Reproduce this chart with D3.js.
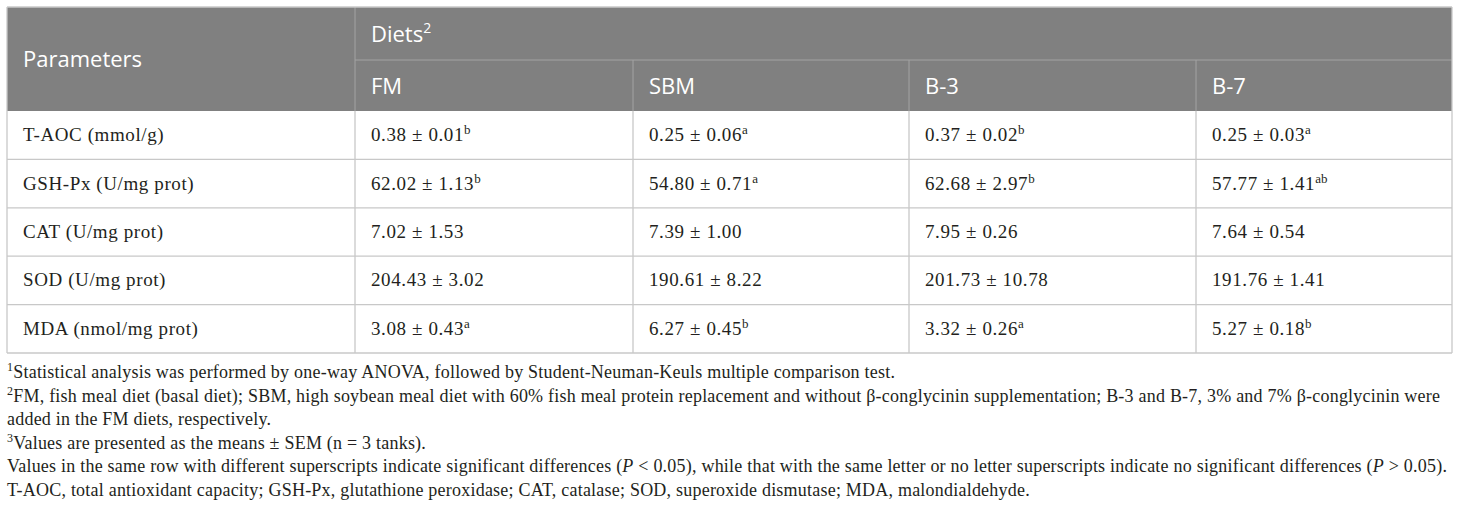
<!DOCTYPE html>
<html>
<head>
<meta charset="utf-8">
<script src="https://cdn.jsdelivr.net/npm/d3@7"></script>
<style>
  html, body { margin: 0; padding: 0; background: #fff; }
  svg { display: block; }
</style>
</head>
<body>
<svg id="chart"></svg>
<script>
// Données du tableau
const diets = ["FM", "SBM", "B-3", "B-7"];
const parameters = ["T-AOC (mmol/g)", "GSH-Px (U/mg prot)", "CAT (U/mg prot)", "SOD (U/mg prot)", "MDA (nmol/mg prot)"];

// valeurs par régime (même ordre que parameters)
const meanFM  = [0.38, 62.02, 7.02, 204.43, 3.08];
const meanSBM = [0.25, 54.80, 7.39, 190.61, 6.27];
const meanB3  = [0.37, 62.68, 7.95, 201.73, 3.32];
const meanB7  = [0.25, 57.77, 7.64, 191.76, 5.27];

const semFM  = [0.01, 1.13, 1.53, 3.02, 0.43];
const semSBM = [0.06, 0.71, 1.00, 8.22, 0.45];
const semB3  = [0.02, 2.97, 0.26, 10.78, 0.26];
const semB7  = [0.03, 1.41, 0.54, 1.41, 0.18];

const letFM  = ["b", "b", "", "", "a"];
const letSBM = ["a", "a", "", "", "b"];
const letB3  = ["b", "b", "", "", "a"];
const letB7  = ["a", "ab", "", "", "b"];

// notes : ^x = exposant, _x_ = italique
const footnotes = [
  "^1Statistical analysis was performed by one-way ANOVA, followed by Student-Neuman-Keuls multiple comparison test.",
  "^2FM, fish meal diet (basal diet); SBM, high soybean meal diet with 60% fish meal protein replacement and without β-conglycinin supplementation; B-3 and B-7, 3% and 7% β-conglycinin were",
  "added in the FM diets, respectively.",
  "^3Values are presented as the means ± SEM (n = 3 tanks).",
  "Values in the same row with different superscripts indicate significant differences (_P_ < 0.05), while that with the same letter or no letter superscripts indicate no significant differences (_P_ > 0.05).",
  "T-AOC, total antioxidant capacity; GSH-Px, glutathione peroxidase; CAT, catalase; SOD, superoxide dismutase; MDA, malondialdehyde."
];

const means = [meanFM, meanSBM, meanB3, meanB7];
const sems = [semFM, semSBM, semB3, semB7];
const letters = [letFM, letSBM, letB3, letB7];

// Dimensions
const width = 1460, height = 514;
const tableLeft = 7, tableRight = 1452, tableTop = 7, headMid = 60, headBottom = 111, tableBottom = 353;
const colEdges = [tableLeft, 355, 633, 909, 1196, tableRight];
const padX = 16;

const svg = d3.select("#chart").attr("width", width).attr("height", height);

const colX = d3.scaleOrdinal().domain(["Parameters"].concat(diets)).range(colEdges.slice(0, 5));
const rowY = d3.scaleBand().domain(parameters).range([headBottom, tableBottom]);
const fmt = d3.format(".2f");

const serif = "'Liberation Serif', 'DejaVu Serif', serif";
const sans = "'Open Sans', 'Noto Sans', sans-serif";
const ink = "#231f20";

// En-tête gris
svg.append("rect")
  .attr("x", tableLeft).attr("y", tableTop)
  .attr("width", tableRight - tableLeft).attr("height", headBottom - tableTop)
  .style("fill", "#808080");

// lignes de l'en-tête
const headLine = "#a3a3a3";
svg.append("line")
  .attr("x1", colEdges[1]).attr("x2", tableRight).attr("y1", headMid).attr("y2", headMid)
  .style("stroke", headLine).style("stroke-width", 1);
svg.append("line")
  .attr("x1", colEdges[1]).attr("x2", colEdges[1]).attr("y1", tableTop).attr("y2", headBottom)
  .style("stroke", headLine).style("stroke-width", 1);
svg.selectAll(".hsep")
  .data(diets.slice(1))
  .enter().append("line")
  .attr("x1", d => colX(d)).attr("x2", d => colX(d))
  .attr("y1", headMid).attr("y2", headBottom)
  .style("stroke", headLine).style("stroke-width", 1);

// textes de l'en-tête
svg.append("text")
  .attr("x", tableLeft + padX).attr("y", (tableTop + headBottom) / 2 + 8)
  .style("font-family", sans).style("font-size", "22px").style("fill", "#fff")
  .text("Parameters");

const dietsTitle = svg.append("text")
  .attr("x", colEdges[1] + padX).attr("y", (tableTop + headMid) / 2 + 8)
  .style("font-family", sans).style("font-size", "22px").style("fill", "#fff");
dietsTitle.append("tspan").text("Diets");
dietsTitle.append("tspan").attr("dy", -9).style("font-size", "14px").text("2");

svg.selectAll(".dietHead")
  .data(diets)
  .enter().append("text")
  .attr("x", d => colX(d) + padX).attr("y", (headMid + headBottom) / 2 + 8)
  .style("font-family", sans).style("font-size", "22px").style("fill", "#fff")
  .text(d => d);

// grille du corps
const gridColor = "#c8c8c8";
svg.selectAll(".rowLine")
  .data(parameters)
  .enter().append("line")
  .attr("x1", tableLeft).attr("x2", tableRight)
  .attr("y1", d => rowY(d) + rowY.bandwidth()).attr("y2", d => rowY(d) + rowY.bandwidth())
  .style("stroke", gridColor).style("stroke-width", 1.3);
svg.selectAll(".colLine")
  .data(colEdges)
  .enter().append("line")
  .attr("x1", d => d).attr("x2", d => d)
  .attr("y1", (d, i) => (i === 0 || i === colEdges.length - 1) ? tableTop : headBottom)
  .attr("y2", tableBottom)
  .style("stroke", gridColor).style("stroke-width", 1.3);
svg.append("line")
  .attr("x1", tableLeft).attr("x2", tableRight).attr("y1", tableTop).attr("y2", tableTop)
  .style("stroke", gridColor).style("stroke-width", 1.3);

// colonne des paramètres
svg.selectAll(".param")
  .data(parameters)
  .enter().append("text")
  .attr("x", tableLeft + padX)
  .attr("y", d => rowY(d) + rowY.bandwidth() / 2 + 6)
  .style("font-family", serif).style("font-size", "19px").style("letter-spacing", "0.6px")
  .style("fill", ink)
  .text(d => d);

// cellules
diets.forEach((diet, j) => {
  const cells = svg.selectAll(".cell-" + j)
    .data(parameters)
    .enter().append("text")
    .attr("x", colX(diet) + padX)
    .attr("y", d => rowY(d) + rowY.bandwidth() / 2 + 6)
    .style("font-family", serif).style("font-size", "19px").style("letter-spacing", "0.6px")
    .style("fill", ink);
  cells.append("tspan").text((d, i) => fmt(means[j][i]) + " ± " + fmt(sems[j][i]));
  cells.append("tspan")
    .attr("dy", -7).style("font-size", "13px").style("letter-spacing", "0px")
    .text((d, i) => letters[j][i]);
});

// notes de bas de tableau
const notes = svg.selectAll(".note")
  .data(footnotes)
  .enter().append("text")
  .attr("x", tableLeft)
  .attr("y", (d, i) => 378 + i * 23.6)
  .style("font-family", serif).style("font-size", "18px").style("letter-spacing", "0.22px")
  .style("fill", ink);

notes.each(function(d) {
  const t = d3.select(this);
  const parts = d.split(/(\^\d|_[^_]+_)/).filter(p => p !== "");
  let raised = false;
  parts.forEach(p => {
    if (p[0] === "^") {
      t.append("tspan").attr("dy", -7).style("font-size", "12px").text(p.slice(1));
      raised = true;
    } else {
      const s = t.append("tspan");
      if (raised) { s.attr("dy", 7); raised = false; }
      if (p[0] === "_") s.style("font-style", "italic").text(p.slice(1, -1));
      else s.text(p);
    }
  });
});
</script>
</body>
</html>
